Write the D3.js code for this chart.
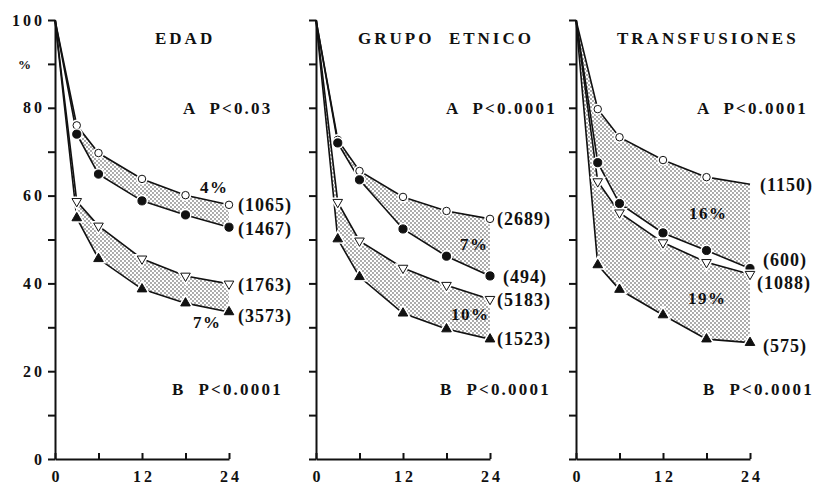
<!DOCTYPE html>
<html>
<head>
<meta charset="utf-8">
<script src="https://cdn.jsdelivr.net/npm/d3@7"></script>
<style>
  body { margin: 0; background: #fff; }
  text { font-family: "Liberation Serif", "DejaVu Serif", serif; font-weight: bold; fill: #111; }
  .axis path, .axis line { stroke: #111; stroke-width: 2; }
</style>
</head>
<body>
<div id="chart"></div>
<script>
// DATA ------------------------------
const months = [0, 3, 6, 12, 18, 24];

// EDAD
const edadOpenCircle   = [100, 76.0, 69.7, 63.8, 60.1, 57.9];
const edadFilledCircle = [100, 74.0, 64.9, 58.8, 55.6, 52.8];
const edadOpenTri      = [100, 58.7, 53.1, 45.6, 41.7, 39.9];
const edadFilledTri    = [100, 54.9, 45.6, 38.7, 35.5, 33.5];
const edadCounts = ["(1065)", "(1467)", "(1763)", "(3573)"];

// GRUPO ETNICO
const etnOpenCircle   = [100, 72.7, 65.6, 59.7, 56.5, 54.7];
const etnFilledCircle = [100, 72.0, 63.6, 52.4, 46.2, 41.7];
const etnOpenTri      = [100, 58.5, 49.7, 43.5, 39.6, 36.4];
const etnFilledTri    = [100, 50.1, 41.5, 33.2, 29.6, 27.3];
const etnCounts = ["(2689)", "(494)", "(5183)", "(1523)"];

// TRANSFUSIONES
const trOpenCircle   = [100, 79.7, 73.3, 68.1, 64.2, 62.6];
const trFilledCircle = [100, 67.5, 58.2, 51.5, 47.5, 43.4];
const trOpenTri      = [100, 63.2, 56.1, 49.3, 44.8, 42.1];
const trFilledTri    = [100, 44.2, 38.6, 32.8, 27.3, 26.5];
const trCounts = ["(1150)", "(600)", "(1088)", "(575)"];

const titles = ["EDAD", "GRUPO  ETNICO", "TRANSFUSIONES"];
const pTextsA = ["A  P<0.03", "A  P<0.0001", "A  P<0.0001"];
const pTextsB = ["B  P<0.0001", "B  P<0.0001", "B  P<0.0001"];
const diffA = ["4%", "7%", "16%"];
const diffB = ["7%", "10%", "19%"];

const yTicks = d3.range(0, 101, 10);
const xTicks = [0, 6, 12, 18, 24];
const xLabels = [0, 12, 24];

// LAYOUT ------------------------------
const width = 821, height = 486;
const y0 = 459, y100 = 20;
const plotW = 174;
const panelX = [55, 316, 576];

// annotation spots, panel-local px (x start, baseline)
const spots = [
  {title: [100, 44], a: [128, 114], dA: [145, 193], c: [[183, 211], [183, 235], [183, 291], [183, 322]], dB: [138, 328], b: [117, 395]},
  {title: [42, 44], a: [130, 114], dA: [144, 250], c: [[181, 225], [187, 283], [181, 306], [181, 345]], dB: [135, 320], b: [124, 395]},
  {title: [41, 44], a: [121, 114], dA: [113, 219], c: [[184, 191], [187, 266], [181, 289], [187, 352]], dB: [112, 304], b: [127, 395]}
];

const panels = [
  {oc: edadOpenCircle, fc: edadFilledCircle, ot: edadOpenTri, ft: edadFilledTri, counts: edadCounts},
  {oc: etnOpenCircle, fc: etnFilledCircle, ot: etnOpenTri, ft: etnFilledTri, counts: etnCounts},
  {oc: trOpenCircle, fc: trFilledCircle, ot: trOpenTri, ft: trFilledTri, counts: trCounts, hideLastOc: true}
];

const svg = d3.select("#chart").append("svg")
  .attr("width", width)
  .attr("height", height);

// dotted shading
const pat = svg.append("defs").append("pattern")
  .attr("id", "dots")
  .attr("patternUnits", "userSpaceOnUse")
  .attr("width", 4).attr("height", 4);
pat.append("circle").attr("cx", 1).attr("cy", 1).attr("r", 0.65).attr("fill", "#111");
pat.append("circle").attr("cx", 3).attr("cy", 3).attr("r", 0.65).attr("fill", "#111");

const yScale = d3.scaleLinear().domain([0, 100]).range([y0, y100]);

panels.forEach((p, i) => {
  const xScale = d3.scaleLinear().domain([0, 24]).range([panelX[i], panelX[i] + plotW]);
  const g = svg.append("g");

  const area = (top, bot) => d3.area()
    .x((d, j) => xScale(months[j]))
    .y0((d, j) => yScale(bot[j]))
    .y1(d => yScale(d))(top);

  g.append("path").attr("d", area(p.oc, p.fc)).attr("fill", "url(#dots)");
  g.append("path").attr("d", area(p.ot, p.ft)).attr("fill", "url(#dots)");

  // axes
  const yAxis = d3.axisLeft(yScale)
    .tickValues(yTicks)
    .tickSizeInner(7).tickSizeOuter(0).tickPadding(3)
    .tickFormat(d => i > 0 ? "" : (d % 20 === 0 ? d : (d === 90 ? "%" : "")));
  const yg = g.append("g").attr("class", "axis")
    .attr("transform", "translate(" + panelX[i] + ",0)")
    .call(yAxis);
  yg.selectAll("text").style("font-size", "16px").style("letter-spacing", "3px");
  yg.selectAll("text").filter(d => d === 90).style("font-size", "13px").attr("x", -21);

  const xAxis = d3.axisBottom(xScale)
    .tickValues(xTicks)
    .tickSizeInner(-6).tickSizeOuter(0)
    .tickFormat(d => xLabels.includes(d) ? d : "");
  const xg = g.append("g").attr("class", "axis")
    .attr("transform", "translate(0," + y0 + ")")
    .call(xAxis);
  xg.selectAll("text").attr("y", 12).attr("dx", "1.5px")
    .style("font-size", "16px").style("letter-spacing", "3px");

  // lines
  const line = d3.line().x((d, j) => xScale(months[j])).y(d => yScale(d));
  [p.oc, p.fc, p.ot, p.ft].forEach(s => {
    g.append("path").attr("d", line(s))
      .attr("fill", "none").attr("stroke", "#111").attr("stroke-width", 1.6);
  });

  // markers
  const series = [
    {v: p.oc, type: d3.symbolCircle, size: 44, fill: "#fff", rot: 0},
    {v: p.fc, type: d3.symbolCircle, size: 52, fill: "#111", rot: 0},
    {v: p.ot, type: d3.symbolTriangle, size: 40, fill: "#fff", rot: 180},
    {v: p.ft, type: d3.symbolTriangle, size: 40, fill: "#111", rot: 0}
  ];
  series.forEach((s, k) => {
    const pts = s.v.map((d, j) => ({m: months[j], v: d, j: j}))
      .filter(d => d.m > 0 && !(k === 0 && p.hideLastOc && d.j === 5));
    const sym = d3.symbol().type(s.type).size(s.size);
    g.selectAll(null).data(pts).enter().append("path")
      .attr("d", sym)
      .attr("transform", d => "translate(" + xScale(d.m) + "," + yScale(d.v) + ") rotate(" + s.rot + ")")
      .attr("fill", "#fff").attr("stroke", "#fff").attr("stroke-width", 4);
    g.selectAll(null).data(pts).enter().append("path")
      .attr("d", sym)
      .attr("transform", d => "translate(" + xScale(d.m) + "," + yScale(d.v) + ") rotate(" + s.rot + ")")
      .attr("fill", s.fill).attr("stroke", "#111").attr("stroke-width", 1);
  });

  // texts
  const sp = spots[i];
  const x0 = panelX[i];
  const addText = (txt, pos, size, ls) => g.append("text")
    .attr("x", x0 + pos[0]).attr("y", pos[1])
    .style("font-size", size + "px").style("letter-spacing", ls + "px")
    .style("white-space", "pre")
    .text(txt);

  addText(titles[i], sp.title, 17, 3);
  addText(pTextsA[i], sp.a, 17, 2.2);
  addText(pTextsB[i], sp.b, 17, 2.2);
  addText(diffA[i], sp.dA, 17, 1.5);
  addText(diffB[i], sp.dB, 17, 1.5);
  p.counts.forEach((c, k) => addText(c, sp.c[k], 18, 1));
});
</script>
</body>
</html>
